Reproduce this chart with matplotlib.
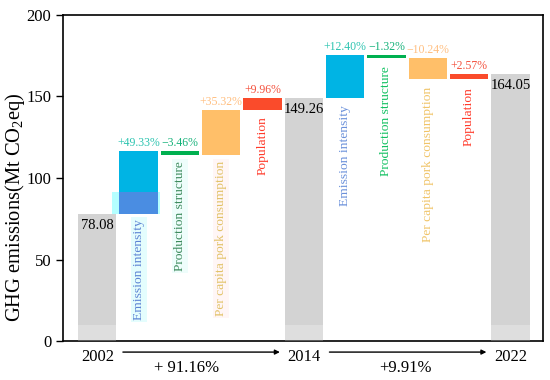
import matplotlib
matplotlib.use('Agg')
import matplotlib.pyplot as plt
import numpy as np

plt.rcParams['font.family'] = ['Liberation Serif', 'DejaVu Serif']
plt.rcParams['mathtext.fontset'] = 'custom'
plt.rcParams['mathtext.rm'] = 'Liberation Serif'
plt.rcParams['mathtext.it'] = 'Liberation Serif:italic'

# ---- data ----
years = ['2002', '2014', '2022']
totals = [78.08, 149.26, 164.05]
factors = ['Emission intensity', 'Production structure',
           'Per capita pork consumption', 'Population']
pct_1 = ['+49.33%', '\u22123.46%', '+35.32%', '+9.96%']
delta_1 = [38.52, -2.70, 27.58, 7.78]
pct_2 = ['+12.40%', '\u22121.32%', '\u221210.24%', '+2.57%']
delta_2 = [26.10, -2.00, -12.90, 3.59]
growth = ['+ 91.16%', '+9.91%']

# ---- styles ----
gray = '#d3d3d3'
bar_colors = ['#00b4e4', '#00b050', '#ffbf69', '#fa4b2b']
pct_colors = ['#2cc4b0', '#16b27a', '#ffbf80', '#f4503c']
lab_colors_1 = ['#5d84d4', '#3c8a5c', '#e2c268', '#ff3a2a']
lab_colors_2 = ['#6a90da', '#10c060', '#f0c468', '#ff3a2a']
lab_bg_1 = ['#e4fdfd', '#eefdfb', '#fff6f6', 'none']

fig = plt.figure(figsize=(5.5, 3.8), dpi=100)
ax = fig.add_axes([63/550, 39/380, 480/550, 326/380])

W = 0.93
def draw_period(start_pos, start_val, deltas, pcts, lab_colors, lab_bgs, lab_off):
    cur = start_val
    for i, (d, p) in enumerate(zip(deltas, pcts)):
        x = start_pos + 1 + i
        bottom = cur if d >= 0 else cur + d
        top = bottom + abs(d)
        ax.bar(x, abs(d), bottom=bottom, width=W, color=bar_colors[i], zorder=2)
        ax.annotate(p, (x, top), xytext=(0, 1.5), textcoords='offset points',
                    ha='center', va='bottom', fontsize=8.5, color=pct_colors[i], zorder=5)
        bb = None
        if lab_bgs[i] != 'none':
            bb = dict(boxstyle='square,pad=0.15', fc=lab_bgs[i], ec='none')
        ax.annotate(factors[i], (x, bottom), xytext=(0, -lab_off), textcoords='offset points',
                    ha='center', va='top', rotation=90, fontsize=9.7,
                    color=lab_colors[i], bbox=bb, zorder=1)
        cur += d
    return cur

pos_tot = [0, 5, 10]
# totals
ax.bar(pos_tot, totals, width=W, color=gray, zorder=2)
ax.bar(pos_tot, [9.6]*3, width=W, color='white', alpha=0.25, zorder=3)
for x, v in zip(pos_tot, totals):
    ax.annotate(f'{v:.2f}', (x, v), xytext=(0, -4), textcoords='offset points',
                ha='center', va='top', fontsize=10.5, color='black', zorder=5)

# artefact highlight on first emission-intensity bar
ax.bar(0.94, 13.1, bottom=totals[0], width=1.16, color='#b4ffff', zorder=1.5)
ax.bar(1, 13.1, bottom=totals[0], width=W, color='#4a8de2', zorder=2.5)

draw_period(0, totals[0], delta_1, pct_1, lab_colors_1, lab_bg_1, 4)
draw_period(5, totals[1], delta_2, pct_2, lab_colors_2, ['none']*4, 5.5)

ax.set_xlim(-0.83, 10.79)
ax.set_ylim(0, 200)
ax.set_yticks([0, 50, 100, 150, 200])
ax.tick_params(axis='y', labelsize=12, direction='out', length=5, width=1)
ax.set_xticks(pos_tot)
ax.set_xticklabels(years)
ax.tick_params(axis='x', labelsize=12, length=0, pad=6)
fig.text(15.5/550, 1 - 207/380, 'GHG emissions(Mt CO$_2$eq)', rotation=90,
         ha='center', va='center', fontsize=14.8)
for s in ax.spines.values():
    s.set_linewidth(1.2)

# growth arrows below the axis
trans = ax.get_xaxis_transform()
for k, g in enumerate(growth):
    a = pos_tot[k]
    b = pos_tot[k + 1]
    ax.annotate('', xy=(b - 0.58, -0.034), xytext=(a + 0.62, -0.034),
                xycoords=trans, textcoords=trans,
                arrowprops=dict(arrowstyle='-|>', lw=1, color='black',
                                mutation_scale=7, shrinkA=0, shrinkB=0),
                annotation_clip=False)
    ax.text((a + b) / 2 - 0.35 + 0.3 * k, -0.083, g, transform=trans,
            ha='center', va='center', fontsize=12, clip_on=False)

fig.savefig('out.png', dpi=100)
